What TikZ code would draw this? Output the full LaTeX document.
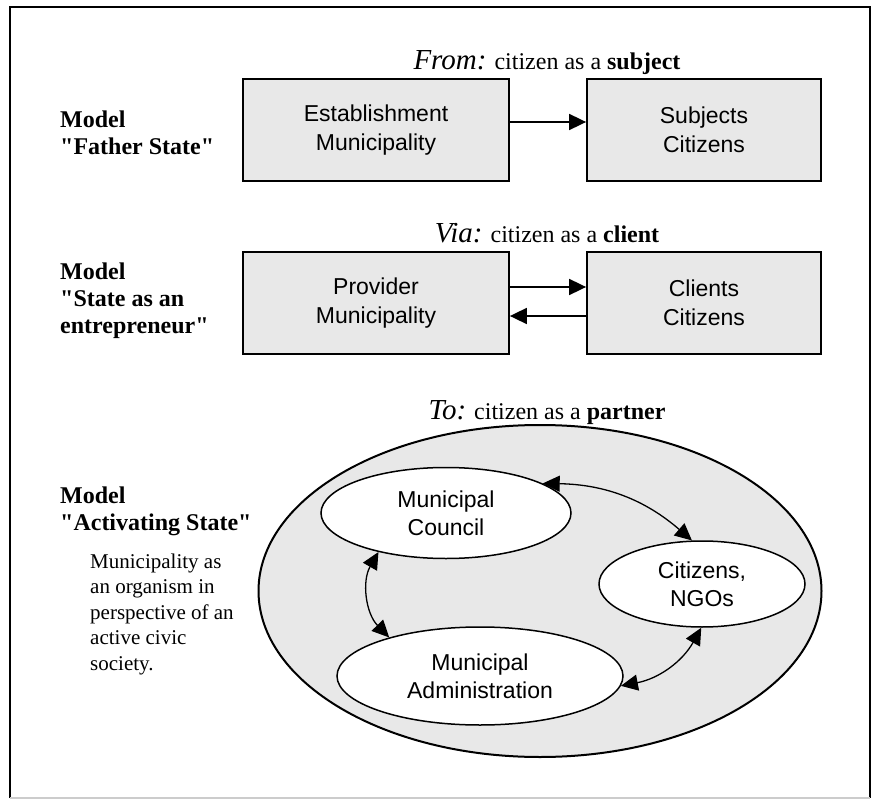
\documentclass[tikz,border=0pt]{standalone}
\usepackage{fontspec}
\setmainfont{Liberation Serif}[Ligatures=TeXOff]
\newfontfamily\boxfont{Liberation Sans}
\usetikzlibrary{arrows.meta,shapes.geometric}
\definecolor{panelgray}{RGB}{232,232,232}

\begin{document}
\begin{tikzpicture}[x=1pt, y=-1pt, >={Triangle[length=17pt,width=16pt]},
    unitbox/.style={draw, line width=1.8pt, fill=panelgray, minimum height=102pt, inner sep=0pt,
        align=center, font=\boxfont\fontsize{23}{29}\selectfont},
    actor/.style={draw, ellipse, line width=1.5pt, fill=white, inner sep=0pt,
        align=center, font=\boxfont\fontsize{23}{28}\selectfont},
    modellbl/.style={anchor=base west, align=left, inner sep=0pt, font=\bfseries\fontsize{24}{27}\selectfont},
    headlbl/.style={anchor=base, inner sep=0pt, font=\fontsize{24}{28}\selectfont},
    flow/.style={->, line width=1.8pt},
    tie/.style={<->, line width=1.3pt}]
    \useasboundingbox (0,0) rectangle (879,800);
    \draw [line width=2pt] (10,798) -- (10,7) -- (870,7) -- (870,798);
    \draw [line width=2pt, black!20] (10,798) -- (870,798);
    \node [headlbl] (fromlbl) at (547,70) {{\fontsize{29}{30}\selectfont\itshape From:} citizen as a \textbf{subject}};
    \node [modellbl] (fathermodel) at (60,154) {Model\\"Father State"};
    \node [unitbox, minimum width=266pt] (estab) at (376,130) {Establishment\\Municipality};
    \node [unitbox, minimum width=234pt] (subj) at (704,130) {Subjects\\Citizens};
    \draw [flow] ([yshift=8pt]estab.east) -- ([yshift=8pt]subj.west);
    \node [headlbl] (vialbl) at (547,242) {{\fontsize{29}{30}\selectfont\itshape Via:} citizen as a \textbf{client}};
    \node [modellbl] (entremodel) at (60,333) {Model\\"State as an\\entrepreneur"};
    \node [unitbox, minimum width=266pt] (prov) at (376,303) {Provider\\Municipality};
    \node [unitbox, minimum width=234pt] (clien) at (704,303) {Clients\\Citizens};
    \draw [flow] ([yshift=16pt]prov.east) -- ([yshift=16pt]clien.west);
    \draw [flow] ([yshift=-13pt]clien.west) -- ([yshift=-13pt]prov.east);
    \node [headlbl] (tolbl) at (547,419) {{\fontsize{29}{30}\selectfont\itshape To:} citizen as a \textbf{partner}};
    \node [modellbl] (activmodel) at (60,530) {Model\\"Activating State"};
    \node [anchor=base west, align=left, inner sep=0pt, font=\fontsize{21}{25.5}\selectfont] (activdesc) at (90,670)
        {Municipality as\\an organism in\\perspective of an\\active civic\\society.};
    \node [draw, ellipse, line width=2pt, fill=panelgray, minimum width=563pt, minimum height=332pt, inner sep=0pt] (civic) at (540,591) {};
    \node [actor, minimum width=250pt, minimum height=91pt] (council) at (446,513) {Municipal\\Council};
    \node [actor, minimum width=206pt, minimum height=86pt] (citizens) at (702,584) {Citizens,\\NGOs};
    \node [actor, minimum width=286pt, minimum height=98pt] (admin) at (480,676) {Municipal\\Administration};
    \draw [tie] (council.17) to [bend left=20] (citizens.103);
    \draw [tie] (council.210) to [bend right=37] (admin.157);
    \draw [tie] (citizens.269) to [bend left=25] (admin.356);
\end{tikzpicture}
\end{document}
